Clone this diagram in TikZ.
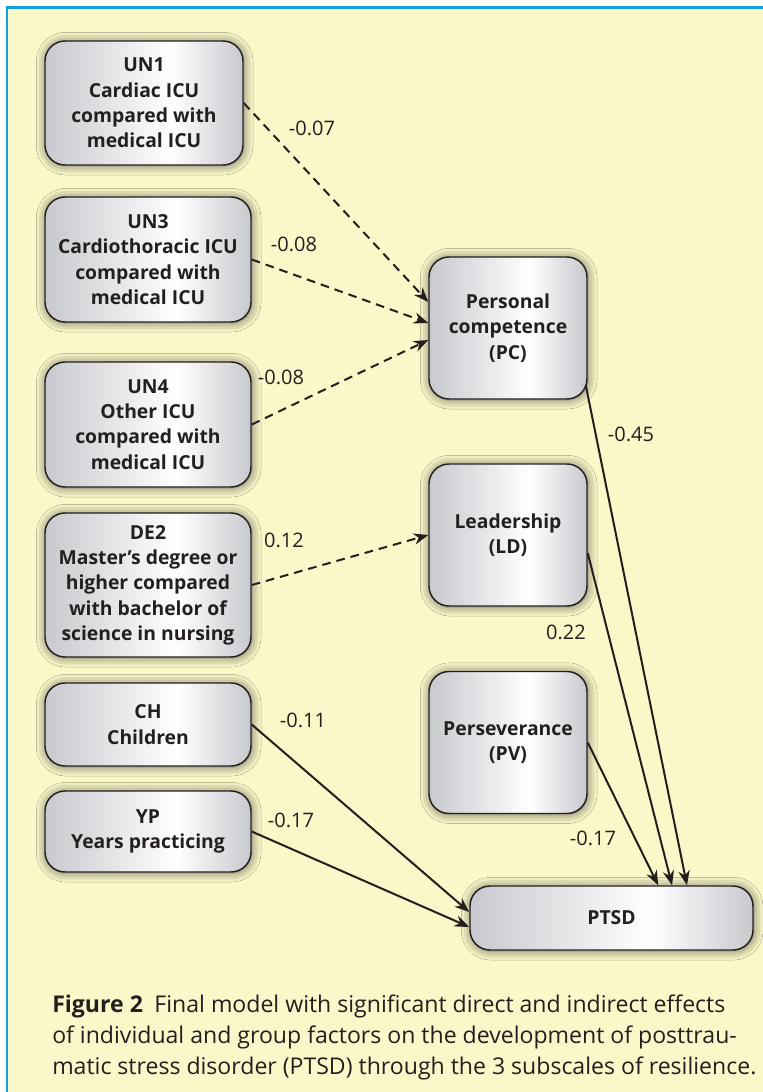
\documentclass[tikz,border=0pt]{standalone}
\usepackage{fontspec}
\setmainfont{Open Sans}
\usetikzlibrary{arrows.meta,shadows.blur}
\definecolor{bgyellow}{RGB}{250,247,201}
\definecolor{rimblue}{RGB}{22,160,219}
\definecolor{boxgray}{RGB}{200,201,206}
\definecolor{ink}{RGB}{35,31,32}
\pgfdeclarehorizontalshading{boxshade}{100bp}{color(0bp)=(boxgray); color(25bp)=(boxgray); color(57bp)=(white); color(75bp)=(boxgray); color(100bp)=(boxgray)}
\tikzset{
  factor/.style={draw=ink, line width=1.1pt, rounded corners=15pt, shading=boxshade, align=center, text=ink,
    font=\bfseries\fontsize{14.5}{19}\selectfont, inner sep=2pt,
    blur shadow={shadow xshift=0.5pt, shadow yshift=-0.5pt, shadow blur radius=7pt, shadow opacity=60}},
  effect/.style={draw=ink, line width=1.5pt, -{Stealth[length=11pt,width=8.5pt]}},
  dashedeffect/.style={effect, dash pattern=on 6.5pt off 4.5pt},
  coef/.style={text=ink, font=\fontsize{15}{17}\selectfont, inner sep=0pt}
}

\begin{document}
\begin{tikzpicture}[x=0.75pt,y=0.75pt]
  \useasboundingbox (0,0) rectangle (763,-1092);
  % panel
  \fill[white] (0,0) rectangle (763,-1092);
  \fill[bgyellow] (7,-7.5) rectangle (763,-1092);
  \draw[rimblue, line width=1.9pt] (7,-1092) -- (7,-7.5) -- (763,-7.5);

  % predictors
  \node[factor, minimum width=148.5pt, minimum height=93pt] (un1) at (144,-103) {UN1\\Cardiac ICU\\compared with\\medical ICU};
  \node[factor, minimum width=154.5pt, minimum height=93.75pt] (un3) at (148,-259.5) {UN3\\Cardiothoracic ICU\\compared with\\medical ICU};
  \node[factor, minimum width=154.5pt, minimum height=93.75pt] (un4) at (148,-424.5) {UN4\\Other ICU\\compared with\\medical ICU};
  \node[factor, minimum width=154.5pt, minimum height=108pt] (de2) at (148,-585) {DE2\\Master's degree or\\higher compared\\with bachelor of\\science in nursing};
  \node[factor, minimum width=154.5pt, minimum height=62.25pt] (ch) at (148,-724.5) {CH\\Children};
  \node[factor, minimum width=154.5pt, minimum height=60.75pt] (yp) at (148,-831.5) {YP\\Years practicing};

  % resilience subscales and outcome
  \node[factor, minimum width=118.5pt, minimum height=106.5pt] (pc) at (508,-328) {Personal\\competence\\(PC)};
  \node[factor, minimum width=118.5pt, minimum height=106.5pt] (ld) at (508,-535) {Leadership\\(LD)};
  \node[factor, minimum width=118.5pt, minimum height=106.5pt] (pv) at (508,-742.5) {Perseverance\\(PV)};
  \node[factor, minimum width=212.25pt, minimum height=48pt] (ptsd) at (611.5,-918) {PTSD};

  % paths
  \draw[dashedeffect] (un1.east) -- ([yshift=19.5pt]pc.west);
  \draw[dashedeffect] (un3.east) -- ([yshift=3.75pt]pc.west);
  \draw[dashedeffect] (un4.east) -- ([yshift=-9pt]pc.west);
  \draw[dashedeffect] (de2.east) -- (ld.west);
  \draw[effect] (ch.east) -- ([yshift=4.5pt]ptsd.west);
  \draw[effect] (yp.east) -- ([yshift=-6.75pt]ptsd.west);
  \draw[effect] ([xshift=-1.5pt,yshift=11pt]pc.south east) -- ([xshift=56.6pt]ptsd.north);
  \draw[effect] ([yshift=-13.5pt]ld.east) -- ([xshift=45.4pt]ptsd.north);
  \draw[effect] (pv.east) -- ([xshift=35pt]ptsd.north);

  % coefficients
  \node[coef] (c1) at (312,-128) {-0.07};
  \node[coef] (c3) at (294,-244) {-0.08};
  \node[coef] (c4) at (281,-377.5) {-0.08};
  \node[coef] (c5) at (284,-540) {0.12};
  \node[coef] (c6) at (303,-720) {-0.11};
  \node[coef] (c7) at (291,-820) {-0.17};
  \node[coef] (c8) at (631,-434) {-0.45};
  \node[coef] (c9) at (566,-632) {0.22};
  \node[coef] (c10) at (593,-838) {-0.17};

  % caption
  \node[anchor=north west, inner sep=0pt, align=left, text=ink, font=\fontsize{17.3}{23}\selectfont] (cap) at (52,-995)
    {\textbf{Figure 2}\hspace{0.5em}Final model with significant direct and indirect effects\\of individual and group factors on the development of posttrau-\\matic stress disorder (PTSD) through the 3 subscales of resilience.};
\end{tikzpicture}
\end{document}
